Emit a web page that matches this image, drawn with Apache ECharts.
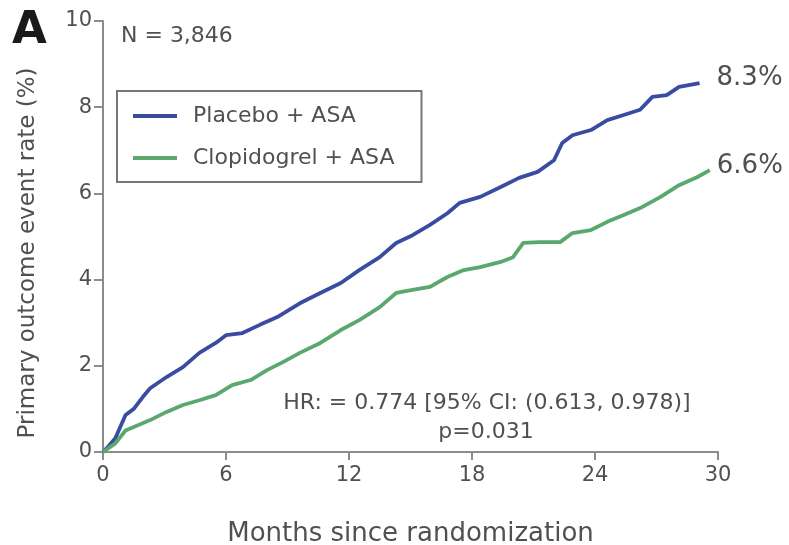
<!DOCTYPE html>
<html>
<head>
<meta charset="utf-8">
<script src="https://cdn.jsdelivr.net/npm/echarts@6/dist/echarts.min.js"></script>
<style>html,body{margin:0;padding:0;background:#fff}#c{width:789px;height:545px}</style>
</head>
<body>
<div id="c"></div>
<script>
const xTicks = [0, 6, 12, 18, 24, 30];
const yTicks = [0, 2, 4, 6, 8, 10];
const placeboMonths = [0, 0.3, 0.6, 1.1, 1.5, 1.95, 2.3, 3.1, 3.9, 4.7, 5.5, 6.0, 6.8, 7.65, 8.5, 9.6, 10.6, 11.6, 12.5, 13.5, 14.3, 15.1, 15.95, 16.8, 17.4, 18.4, 19.4, 20.3, 21.2, 22.0, 22.4, 22.9, 23.8, 24.6, 25.4, 26.2, 26.8, 27.5, 28.1, 29.1];
const placeboRate   = [0, 0.15, 0.32, 0.86, 1.0, 1.28, 1.48, 1.74, 1.97, 2.3, 2.53, 2.71, 2.76, 2.95, 3.13, 3.45, 3.69, 3.92, 4.22, 4.52, 4.85, 5.03, 5.27, 5.54, 5.78, 5.92, 6.15, 6.36, 6.5, 6.77, 7.17, 7.35, 7.47, 7.7, 7.82, 7.94, 8.24, 8.28, 8.47, 8.56];
const clopiMonths = [0, 0.6, 1.1, 2.3, 3.1, 3.9, 4.7, 5.5, 6.3, 7.2, 8.0, 8.8, 9.6, 10.6, 11.6, 12.5, 13.5, 14.3, 15.1, 15.95, 16.8, 17.6, 18.4, 19.4, 20.0, 20.5, 21.3, 22.3, 22.9, 23.8, 24.6, 25.4, 26.2, 27.2, 28.1, 29.0, 29.6];
const clopiRate   = [0, 0.2, 0.5, 0.74, 0.93, 1.09, 1.2, 1.32, 1.55, 1.67, 1.9, 2.09, 2.3, 2.53, 2.83, 3.06, 3.36, 3.69, 3.76, 3.83, 4.06, 4.22, 4.29, 4.41, 4.52, 4.85, 4.87, 4.87, 5.08, 5.15, 5.34, 5.5, 5.66, 5.92, 6.19, 6.38, 6.54];
const seriesNames = ['Placebo + ASA', 'Clopidogrel + ASA'];
const endLabels = ['8.3%', '6.6%'];

const zip = (a, b) => a.map((v, i) => [v, b[i]]);
const chart = echarts.init(document.getElementById('c'), null, {renderer: 'canvas'});
const axisGray = '#8c8c8c';
const textGray = '#505050';
const font = 'DejaVu Sans, sans-serif';

chart.setOption({
  animation: false,
  grid: {left: 103, right: 71, top: 21, bottom: 93, containLabel: false, outerBoundsMode: 'none'},
  xAxis: {
    type: 'value', min: 0, max: 30, interval: 6,
    name: 'Months since randomization', nameLocation: 'middle', nameGap: 69,
    nameTextStyle: {fontSize: 26, color: textGray, fontFamily: font},
    axisLine: {lineStyle: {color: axisGray, width: 2}},
    axisTick: {show: true, length: 8, lineStyle: {color: axisGray, width: 2}},
    axisLabel: {fontSize: 21, color: textGray, fontFamily: font, margin: 13},
    splitLine: {show: false}
  },
  yAxis: {
    type: 'value', min: 0, max: 10, interval: 2,
    axisLine: {show: true, lineStyle: {color: axisGray, width: 2}},
    axisTick: {show: true, length: 9, lineStyle: {color: axisGray, width: 2}},
    axisLabel: {fontSize: 21, color: textGray, fontFamily: font, margin: 11},
    splitLine: {show: false}
  },
  legend: {
    left: 117, top: 91, orient: 'vertical',
    data: seriesNames,
    icon: 'rect', itemWidth: 44, itemHeight: 4, itemGap: 20,
    padding: [14, 27, 13, 16],
    borderColor: '#777', borderWidth: 2,
    textStyle: {fontSize: 22, lineHeight: 22, color: textGray, fontFamily: font, padding: [0, 0, 0, 11]}
  },
  series: [
    {
      name: seriesNames[0], type: 'line', data: zip(placeboMonths, placeboRate),
      symbol: 'none', lineStyle: {color: '#3a4ca0', width: 3.8}, itemStyle: {color: '#3a4ca0'},
      endLabel: {show: true, formatter: endLabels[0], fontSize: 26, color: textGray, fontFamily: font, distance: 17, offset: [0, -5]}
    },
    {
      name: seriesNames[1], type: 'line', data: zip(clopiMonths, clopiRate),
      symbol: 'none', lineStyle: {color: '#5aa86e', width: 3.8}, itemStyle: {color: '#5aa86e'},
      endLabel: {show: true, formatter: endLabels[1], fontSize: 26, color: textGray, fontFamily: font, distance: 7, offset: [0, -4]}
    }
  ],
  graphic: [
    {type: 'text', x: 12, y: 31, style: {text: 'A', fontSize: 45, fontWeight: 'bold', fill: '#1a1a1a', fontFamily: font, verticalAlign: 'middle'}},
    {type: 'text', x: 28, y: 253, rotation: Math.PI / 2, style: {text: 'Primary outcome event rate (%)', fontSize: 23, fill: textGray, fontFamily: font, align: 'center', verticalAlign: 'middle'}},
    {type: 'text', x: 121, y: 36, style: {text: 'N = 3,846', fontSize: 22, fill: textGray, fontFamily: font, verticalAlign: 'middle'}},
    {type: 'text', x: 487, y: 403, style: {text: 'HR: = 0.774 [95% CI: (0.613, 0.978)]', fontSize: 22, fill: textGray, fontFamily: font, align: 'center', verticalAlign: 'middle'}},
    {type: 'text', x: 486, y: 432, style: {text: 'p=0.031', fontSize: 22, fill: textGray, fontFamily: font, align: 'center', verticalAlign: 'middle'}}
  ]
});
</script>
</body>
</html>
